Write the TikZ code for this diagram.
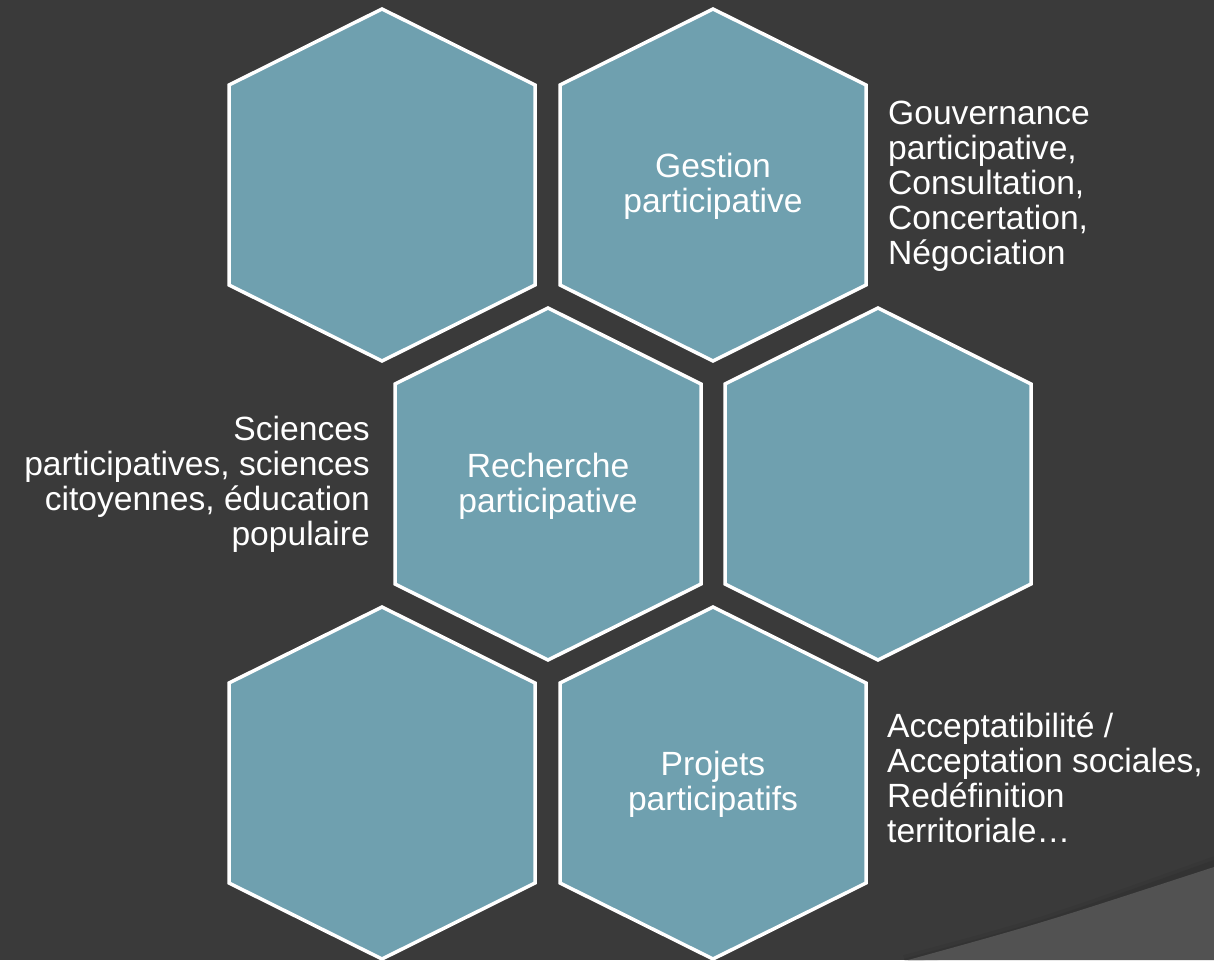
\documentclass[tikz,border=0pt]{standalone}
\usepackage{fontspec}
\setmainfont{Liberation Sans}
\definecolor{bgdark}{HTML}{3A3A3A}
\definecolor{bglight}{HTML}{525252}
\definecolor{hexfill}{HTML}{6FA0AF}
\tikzset{
  hexstyle/.style={fill=hexfill, draw=white, line width=3.5pt, line join=miter},
  hexa/.pic={\path[hexstyle] (0,-176)--(153,-100)--(153,100)--(0,176)--(-153,100)--(-153,-100)--cycle;},
  lbl/.style={text=white, inner sep=0pt, font=\fontsize{33.6}{35}\selectfont},
}
\begin{document}
\begin{tikzpicture}[x=1pt,y=-1pt]
\useasboundingbox (0,0) rectangle (1214,960);
\fill[bgdark] (0,0) rectangle (1214,960);
% lower-right decoration
\draw[black, opacity=0.05, line width=14pt] (905,962) .. controls (1040,926) .. (1216,863);
\draw[black, opacity=0.06, line width=7pt] (905,962) .. controls (1040,926) .. (1216,863);
\fill[bglight] (908,960) .. controls (1042,923) .. (1214,867) -- (1214,960) -- cycle;
% hexagon centres
\coordinate (hA) at (382,185);
\coordinate (hB) at (713,185);
\coordinate (hC) at (548,484);
\coordinate (hD) at (878,484);
\coordinate (hE) at (382,783);
\coordinate (hF) at (713,783);
\pic at (hA) {hexa};
\pic at (hB) {hexa};
\pic at (hC) {hexa};
\pic at (hD) {hexa};
\pic at (hE) {hexa};
\pic at (hF) {hexa};
% texts in hexagons (base = baseline of last line)
\node[lbl, align=center, anchor=base] (tB) at (713,212) {Gestion\\participative};
\node[lbl, align=center, anchor=base] (tC) at (548,512) {Recherche\\participative};
\node[lbl, align=center, anchor=base] (tF) at (713,810) {Projets\\participatifs};
% side texts
\node[lbl, align=left, anchor=base west] (sB) at (888,264) {Gouvernance\\participative,\\Consultation,\\Concertation,\\Négociation};
\node[lbl, align=right, anchor=base east] (sC) at (370,545) {Sciences\\participatives, sciences\\citoyennes, éducation\\populaire};
\node[lbl, align=left, anchor=base west] (sF) at (887,842) {Acceptatibilité /\\Acceptation sociales,\\Redéfinition\\territoriale…};
\end{tikzpicture}
\end{document}
